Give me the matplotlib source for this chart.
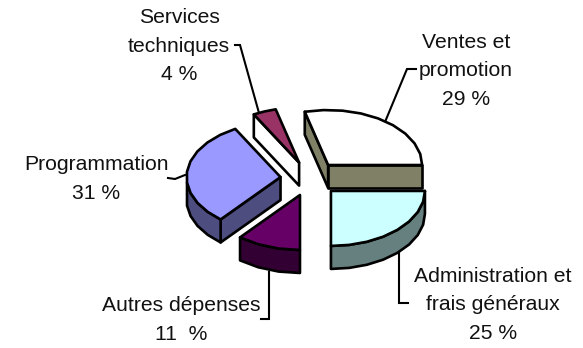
import matplotlib
matplotlib.use('Agg')
import matplotlib.pyplot as plt
import numpy as np

plt.rcParams['font.family'] = ['Liberation Sans', 'DejaVu Sans']

# data, clockwise from 3 o'clock
labels = ['Administration et\nfrais généraux\n25 %', 'Autres dépenses\n11  %', 'Programmation\n31 %',
          'Services\ntechniques\n4 %', 'Ventes et\npromotion\n29 %']
values = [25, 11, 31, 4, 29]
top_colors = ['#CCFFFF', '#660066', '#9999FF', '#993366', '#FFFFFF']
side_colors = ['#668080', '#330033', '#4D4D80', '#FFFFFF', '#808066']
label_pos = [(493, 305), (181, 320), (96, 179), (179, 46), (466, 71)]

# leader lines
leaders = [[(399, 250), (399, 303), (408, 303)],
           [(269, 272), (269, 319), (261, 319)],
           [(185, 175), (175, 179), (168, 178)],
           [(259, 113), (240, 45), (235, 45)],
           [(385, 122), (407, 69), (416, 69)]]

# pie geometry, in pixels
cx, cy = 310, 178.7
rx, ry = 94, 55
depth = 23
explode = 29.6
lw = 1.9

fig = plt.figure(figsize=(5.83, 3.48), dpi=100)
ax = fig.add_axes([0, 0, 1, 1])
ax.set_xlim(0, 583)
ax.set_ylim(348, 0)
ax.axis('off')


def pt(ang, ox, oy, r=1.0):
    return ox + r * rx * np.cos(ang), oy - r * ry * np.sin(ang)


def faces_down(a, b, c):
    # outward normal of edge a-b, c is inside the wedge
    nx, ny = b[1] - a[1], a[0] - b[0]
    if nx * (c[0] - a[0]) + ny * (c[1] - a[1]) > 0:
        ny = -ny
    return ny > 0


def extrude(pts, color):
    pts = list(pts)
    low = [(x, y + depth) for x, y in pts][::-1]
    ax.fill(*zip(*(pts + low)), facecolor=color, edgecolor='black', lw=lw, joinstyle='round', zorder=2)


ends = np.cumsum(values) / sum(values) * 2 * np.pi
starts = ends - np.array(values) / sum(values) * 2 * np.pi

for i in range(len(values)):
    a0, a1 = -starts[i], -ends[i]
    mid = (a0 + a1) / 2
    ox = cx + explode * np.cos(mid)
    oy = cy - explode * ry / rx * np.sin(mid)
    # coarse arc like the original low-res 3D pie
    n = max(2, int(abs(a1 - a0) / np.radians(11)))
    angs = np.linspace(a0, a1, n + 1)
    arc = [pt(a, ox, oy) for a in angs]
    apex = (ox, oy)
    inner = pt(mid, ox, oy, 0.5)

    for end in (arc[0], arc[-1]):
        if faces_down(apex, end, inner):
            extrude([apex, end], side_colors[i])
    front = [a for a in angs if np.sin(a) <= 1e-6]
    if len(front) > 1:
        extrude([pt(a, ox, oy) for a in front], side_colors[i])
    ax.fill(*zip(*([apex] + arc)), facecolor=top_colors[i], edgecolor='black', lw=lw, joinstyle='round', zorder=3)

for line in leaders:
    ax.plot(*zip(*line), color='black', lw=1.5, zorder=1, solid_joinstyle='miter')

for lab, (x, y) in zip(labels, label_pos):
    ax.text(x, y, lab, ha='center', va='center', fontsize=15.2, linespacing=1.65, color='#111111')

fig.savefig('out.png', dpi=100)
